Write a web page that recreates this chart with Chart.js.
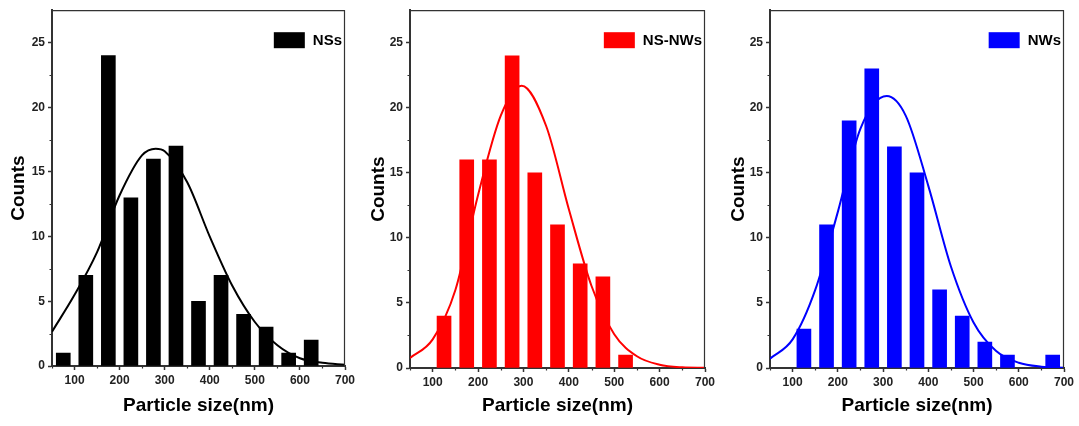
<!DOCTYPE html>
<html>
<head>
<meta charset="utf-8">
<script src="https://cdn.jsdelivr.net/npm/chart.js@4.4.0/dist/chart.umd.min.js"></script>
<style>
  body { margin: 0; background: #fff; }
  .panel { position: absolute; top: 0; width: 360px; height: 426px; }
</style>
</head>
<body>
<div class="panel" style="left:0px"><canvas id="c1" width="360" height="426"></canvas></div>
<div class="panel" style="left:360px"><canvas id="c2" width="360" height="426"></canvas></div>
<div class="panel" style="left:720px"><canvas id="c3" width="360" height="426"></canvas></div>
<script>
// histogram bins (nm) and counts
var binCenters = [75, 125, 175, 225, 275, 325, 375, 425, 475, 525, 575, 625, 675];
var nsCounts   = [1, 7, 24, 13, 16, 17, 5, 7, 4, 3, 1, 2, null];
var nsnwCounts = [null, 4, 16, 16, 24, 15, 11, 8, 7, 1, null, null, null];
var nwCounts   = [null, 3, 11, 19, 23, 17, 15, 6, 4, 2, 1, null, 1];

// fitted curves, points
var nsFitX = [50, 100, 150, 200, 250, 280, 300, 350, 400, 450, 500, 550, 600, 650, 700];
var nsFitY = [2.65, 5.5, 8.8, 13.2, 16.3, 16.8, 16.6, 14.2, 10.0, 6.2, 3.4, 1.6, 0.6, 0.25, 0.1];
var nsnwFitX = [50, 100, 150, 200, 250, 296, 350, 400, 450, 500, 550, 600, 650, 700];
var nsnwFitY = [0.77, 2.2, 6.0, 13.3, 19.4, 21.7, 18.6, 12.2, 6.3, 2.6, 0.9, 0.25, 0.05, 0.01];
var nwFitX = [50, 100, 150, 200, 250, 308, 350, 400, 450, 500, 550, 600, 650, 700];
var nwFitY = [0.72, 2.2, 6.0, 12.0, 18.4, 20.9, 19.4, 14.0, 7.8, 3.5, 1.3, 0.4, 0.1, 0.02];

var minorX = [50, 150, 250, 350, 450, 550, 650];
var minorY = [2.5, 7.5, 12.5, 17.5, 22.5];

var FONT = '"Liberation Sans", Arial, sans-serif';

var decor = {
  id: 'decor',
  afterDraw: function (chart) {
    var ctx = chart.ctx, a = chart.chartArea;
    var xs = chart.scales.x, ys = chart.scales.y;
    ctx.save();
    // top + right frame
    ctx.strokeStyle = '#333';
    ctx.lineWidth = 1.2;
    ctx.beginPath();
    ctx.moveTo(a.left, a.top + 0.5); ctx.lineTo(a.right, a.top + 0.5);
    ctx.moveTo(a.right - 0.5, a.top); ctx.lineTo(a.right - 0.5, a.bottom);
    ctx.stroke();
    // minor ticks
    ctx.beginPath();
    minorX.forEach(function (v) {
      var px = Math.round(xs.getPixelForValue(v)) + 0.5;
      ctx.moveTo(px, a.bottom); ctx.lineTo(px, a.bottom + 2.5);
    });
    minorY.forEach(function (v) {
      var py = Math.round(ys.getPixelForValue(v)) + 0.5;
      ctx.moveTo(a.left, py); ctx.lineTo(a.left - 2.5, py);
    });
    ctx.stroke();
    // legend
    var ds = chart.data.datasets[0];
    ctx.font = 'bold 15px ' + FONT;
    var tw = ctx.measureText(ds.label).width;
    var tx = a.right - 3 - tw;
    var by = a.top + 22;
    ctx.fillStyle = ds.backgroundColor;
    ctx.fillRect(tx - 8 - 31, by, 31, 16);
    ctx.fillStyle = '#000';
    ctx.textBaseline = 'middle';
    ctx.fillText(ds.label, tx, by + 8.5);
    ctx.restore();
  }
};

function makeChart(id, label, color, counts, fitX, fitY, box) {
  var bars = [];
  binCenters.forEach(function (x, i) {
    if (counts[i] != null) bars.push({x: x, y: counts[i]});
  });
  var fit = fitX.map(function (x, i) { return {x: x, y: fitY[i]}; });

  new Chart(document.getElementById(id), {
    type: 'bar',
    data: {
      datasets: [
        {
          label: label,
          data: bars,
          backgroundColor: color,
          barThickness: 14,
          order: 1
        },
        {
          type: 'line',
          label: label + ' fit',
          data: fit,
          borderColor: color,
          borderWidth: 2,
          pointRadius: 0,
          fill: false,
          cubicInterpolationMode: 'monotone',
          order: 0
        }
      ]
    },
    options: {
      responsive: false,
      animation: false,
      layout: { padding: { top: 10, right: box.right, bottom: 0, left: 0 } },
      plugins: { legend: { display: false }, tooltip: { enabled: false } },
      scales: {
        x: {
          type: 'linear',
          offset: false,
          min: 50,
          max: 700,
          afterFit: function (s) { s.height = box.xh; },
          ticks: {
            stepSize: 100,
            includeBounds: false,
            maxRotation: 0,
            autoSkip: false,
            padding: 3,
            color: '#222',
            font: { family: FONT, size: 12, weight: 'bold' }
          },
          grid: { offset: false, drawOnChartArea: false, tickLength: 4, tickColor: '#333', tickWidth: 1.5 },
          border: { color: '#333', width: 2 },
          title: {
            display: true,
            text: 'Particle size(nm)',
            color: '#000',
            font: { family: FONT, size: 19, weight: 'bold' },
            padding: { top: 0, bottom: 9 }
          }
        },
        y: {
          min: 0,
          max: 27.5,
          afterFit: function (s) { s.width = box.yw; },
          ticks: {
            stepSize: 5,
            includeBounds: false,
            padding: 3,
            color: '#222',
            font: { family: FONT, size: 12, weight: 'bold' }
          },
          grid: { drawOnChartArea: false, tickLength: 4, tickColor: '#333', tickWidth: 1.5 },
          border: { color: '#333', width: 2 },
          title: {
            display: true,
            text: 'Counts',
            color: '#000',
            font: { family: FONT, size: 19, weight: 'bold' },
            padding: { top: 7, bottom: 0 }
          }
        }
      }
    },
    plugins: [decor]
  });
}

makeChart('c1', 'NSs', '#000000', nsCounts, nsFitX, nsFitY, {yw: 52, xh: 60, right: 15});
makeChart('c2', 'NS-NWs', '#ff0000', nsnwCounts, nsnwFitX, nsnwFitY, {yw: 50, xh: 58, right: 15});
makeChart('c3', 'NWs', '#0000ff', nwCounts, nwFitX, nwFitY, {yw: 50, xh: 58, right: 16});
</script>
</body>
</html>
